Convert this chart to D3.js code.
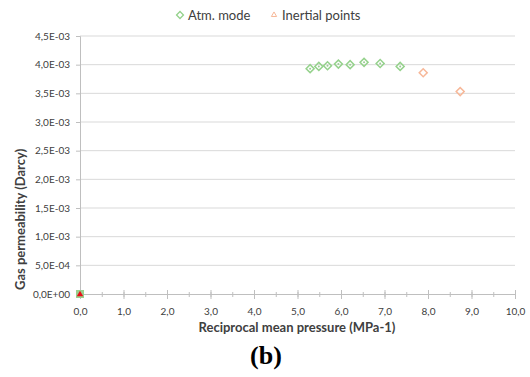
<!DOCTYPE html>
<html>
<head>
<meta charset="utf-8">
<script src="https://cdnjs.cloudflare.com/ajax/libs/d3/7.8.5/d3.min.js"></script>
<style>
  body { margin: 0; background: #fff; }
  text { font-family: Lato, "Open Sans", sans-serif; fill: #404040; }
</style>
</head>
<body>
<div id="chart"></div>
<script>
// reciprocal mean pressure (MPa-1) and permeability (Darcy)
const atmX = [5.29, 5.49, 5.69, 5.94, 6.21, 6.53, 6.90, 7.36];
const atmY = [3.93e-3, 3.97e-3, 3.98e-3, 4.01e-3, 4.00e-3, 4.04e-3, 4.02e-3, 3.97e-3];
const inertX = [7.89, 8.74];
const inertY = [3.86e-3, 3.53e-3];
const xTicks = [0, 1, 2, 3, 4, 5, 6, 7, 8, 9, 10];
const yTicks = [0, 5e-4, 1e-3, 1.5e-3, 2e-3, 2.5e-3, 3e-3, 3.5e-3, 4e-3, 4.5e-3];

const width = 530, height = 377;
const margin = {top: 36, right: 15, bottom: 83, left: 80};
const w = width - margin.left - margin.right;
const h = height - margin.top - margin.bottom;

const svg = d3.select('#chart').append('svg')
  .attr('width', width)
  .attr('height', height);

const g = svg.append('g')
  .attr('transform', 'translate(' + margin.left + ',' + margin.top + ')');

const x = d3.scaleLinear().domain([0, 10]).range([0, w]);
const y = d3.scaleLinear().domain([0, 4.5e-3]).range([h, 0]);

const fmtX = d => d3.format('.1f')(d).replace('.', ',');
const fmtY = d => {
  if (d === 0) return '0,0E+00';
  const e = Math.floor(Math.log10(d) + 1e-9);
  const m = d / Math.pow(10, e);
  return m.toFixed(1).replace('.', ',') + 'E-' + String(-e).padStart(2, '0');
};

// gridlines
g.append('g')
  .selectAll('line')
  .data(yTicks.slice(1))
  .join('line')
  .attr('x1', 0).attr('x2', w)
  .attr('y1', d => y(d)).attr('y2', d => y(d))
  .attr('stroke', '#d9d9d9');

// y axis
const yAxis = g.append('g')
  .call(d3.axisLeft(y).tickValues(yTicks).tickFormat(fmtY).tickSize(4).tickPadding(6));
yAxis.select('.domain').attr('stroke', '#bfbfbf');
yAxis.selectAll('.tick line').attr('stroke', '#bfbfbf');
yAxis.selectAll('text').style('font-size', '10px').attr('fill', '#404040');

// x axis with minor ticks
const xMinor = g.append('g')
  .attr('transform', 'translate(0,' + h + ')')
  .call(d3.axisBottom(x).ticks(20).tickFormat('').tickSize(3).tickSizeOuter(0));
xMinor.select('.domain').remove();
xMinor.selectAll('.tick line').attr('stroke', '#bfbfbf').attr('y1', -2);

const xAxis = g.append('g')
  .attr('transform', 'translate(0,' + h + ')')
  .call(d3.axisBottom(x).tickValues(xTicks).tickFormat(fmtX).tickSize(5).tickPadding(9).tickSizeOuter(0));
xAxis.select('.domain').attr('stroke', '#bfbfbf');
xAxis.selectAll('.tick line').attr('stroke', '#bfbfbf').attr('y1', -4);
xAxis.selectAll('text').style('font-size', '10px').attr('fill', '#404040');

// diamond symbol
const diamond = d3.symbol().type(d3.symbolSquare).size(32);

// atm mode points
const atm = atmX.map((v, i) => [v, atmY[i]]);
const atmG = g.append('g').selectAll('g')
  .data(atm)
  .join('g')
  .attr('transform', d => 'translate(' + x(d[0]) + ',' + y(d[1]) + ')');
atmG.append('path')
  .attr('d', diamond)
  .attr('transform', 'rotate(45)')
  .attr('fill', 'none')
  .attr('stroke', '#95d28c')
  .attr('stroke-width', 1.5);
atmG.append('circle')
  .attr('r', 1)
  .attr('fill', '#9acb93');

// inertial points
const inert = inertX.map((v, i) => [v, inertY[i]]);
g.append('g').selectAll('path')
  .data(inert)
  .join('path')
  .attr('d', diamond)
  .attr('transform', d => 'translate(' + x(d[0]) + ',' + y(d[1]) + ') rotate(45)')
  .attr('fill', 'none')
  .attr('stroke', '#f7b899')
  .attr('stroke-width', 1.5);

// origin point
g.append('rect')
  .attr('x', x(0) - 4).attr('y', y(0) - 4)
  .attr('width', 8).attr('height', 8)
  .attr('fill', '#9ad08f');
g.append('path')
  .attr('d', d3.symbol().type(d3.symbolTriangle).size(18))
  .attr('transform', 'translate(' + x(0) + ',' + (y(0) + 0.5) + ')')
  .attr('fill', '#e8111a');

// axis titles
svg.append('text')
  .attr('x', 297)
  .attr('y', 332)
  .attr('text-anchor', 'middle')
  .style('font-size', '13px')
  .style('font-weight', 'bold')
  .text('Reciprocal mean pressure (MPa-1)');

svg.append('text')
  .attr('transform', 'translate(25,290) rotate(-90)')
  .attr('text-anchor', 'start')
  .style('font-size', '13px')
  .style('font-weight', 'bold')
  .text('Gas permeability (Darcy)');

svg.append('text')
  .attr('x', 266)
  .attr('y', 364)
  .attr('text-anchor', 'middle')
  .style('font-family', '"Liberation Serif", "DejaVu Serif", serif')
  .style('font-size', '26px')
  .style('font-weight', 'bold')
  .style('fill', '#000')
  .text('(b)');

// legend
const legend = svg.append('g').attr('transform', 'translate(0,15)');
legend.append('path')
  .attr('d', d3.symbol().type(d3.symbolSquare).size(24))
  .attr('transform', 'translate(180,0) rotate(45)')
  .attr('fill', 'none')
  .attr('stroke', '#95d28c')
  .attr('stroke-width', 1.3);
legend.append('text')
  .attr('x', 188).attr('y', 4.5)
  .style('font-size', '13px')
  .text('Atm. mode');
legend.append('path')
  .attr('d', d3.symbol().type(d3.symbolTriangle).size(12))
  .attr('transform', 'translate(274,0)')
  .attr('fill', 'none')
  .attr('stroke', '#f7b899')
  .attr('stroke-width', 1);
legend.append('text')
  .attr('x', 282).attr('y', 4.5)
  .style('font-size', '13px')
  .text('Inertial points');
</script>
</body>
</html>
